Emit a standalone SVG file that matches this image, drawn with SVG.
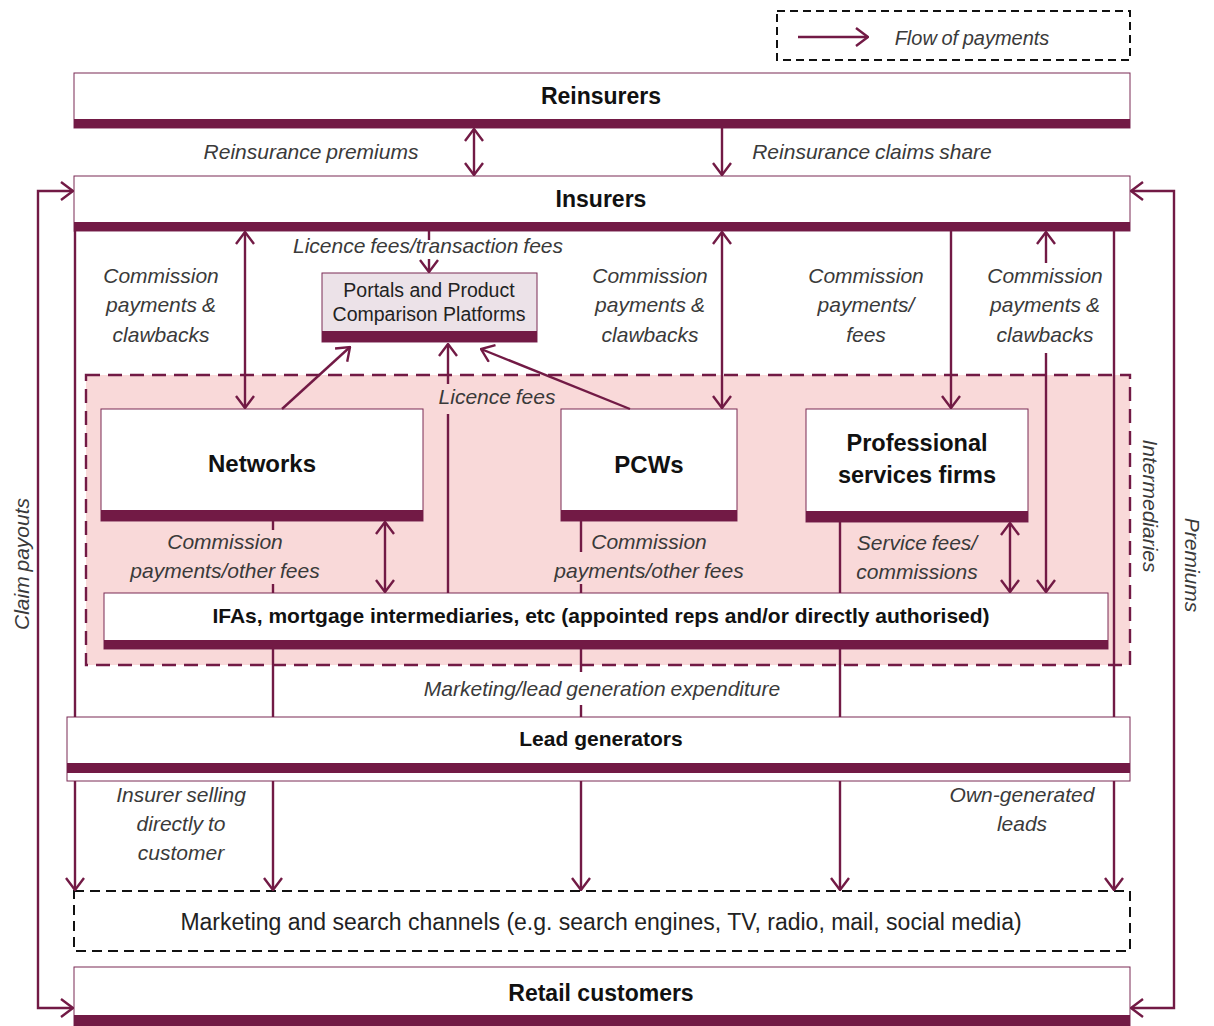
<svg xmlns="http://www.w3.org/2000/svg" width="1214" height="1026" viewBox="0 0 1214 1026">
<defs>
<style>
.box{fill:#fff;stroke:#7b2a55;stroke-width:1}
.bar{fill:#721a45}
.conn{stroke:#721a45;stroke-width:2.4;fill:none}
.lbl{font-family:"Liberation Sans",Arial,sans-serif;font-style:italic;font-size:21px;fill:#3a3a3a;text-anchor:middle;word-spacing:-1px}
.ttl{font-family:"Liberation Sans",Arial,sans-serif;font-weight:700;fill:#111;text-anchor:middle}
.reg{font-family:"Liberation Sans",Arial,sans-serif;fill:#222;text-anchor:middle}
</style>
<marker id="ah" viewBox="0 0 14 20" refX="13" refY="10" markerWidth="14" markerHeight="20" markerUnits="userSpaceOnUse" orient="auto-start-reverse">
<path d="M1,1 L13,10 L1,19" fill="none" stroke="#721a45" stroke-width="2.4"/>
</marker>
</defs>
<rect width="1214" height="1026" fill="#fff"/>

<g id="legend">
<rect x="777" y="11" width="353" height="49" fill="none" stroke="#111" stroke-width="2" stroke-dasharray="8,5"/>
<line x1="798" y1="37" x2="868" y2="37" class="conn" marker-end="url(#ah)"/>
<text x="972" y="45" class="lbl" style="font-size:20px;word-spacing:-1px">Flow of payments</text>
</g>

<g id="reinsurers">
<rect class="box" x="74" y="73" width="1056" height="55"/>
<rect class="bar" x="74" y="119" width="1056" height="9"/>
<text x="601" y="104" class="ttl" font-size="23">Reinsurers</text>
</g>

<g id="insurers">
<rect class="box" x="74" y="176" width="1056" height="55"/>
<rect class="bar" x="74" y="222" width="1056" height="9"/>
<text x="601" y="207" class="ttl" font-size="23">Insurers</text>
</g>

<g id="intermediaries">
<rect x="86" y="375" width="1044" height="290" fill="#f9d9d9" stroke="#721a45" stroke-width="2.4" stroke-dasharray="14,8"/>
<text transform="translate(1143,506) rotate(90)" class="lbl">Intermediaries</text>
</g>

<g id="portals">
<rect x="322" y="273" width="215" height="69" fill="#ece2e8" stroke="#7b2a55" stroke-width="1"/>
<rect class="bar" x="322" y="331" width="215" height="11"/>
<text x="429" y="297" class="reg" font-size="19.5">Portals and Product</text>
<text x="429" y="321" class="reg" font-size="19.5">Comparison Platforms</text>
</g>

<g id="networks">
<rect class="box" x="101" y="409" width="322" height="112"/>
<rect class="bar" x="101" y="510" width="322" height="11"/>
<text x="262" y="472" class="ttl" font-size="24">Networks</text>
</g>

<g id="pcws">
<rect class="box" x="561" y="409" width="176" height="112"/>
<rect class="bar" x="561" y="510" width="176" height="11"/>
<text x="649" y="473" class="ttl" font-size="24">PCWs</text>
</g>

<g id="professional">
<rect class="box" x="806" y="409" width="222" height="113"/>
<rect class="bar" x="806" y="511" width="222" height="11"/>
<text x="917" y="451" class="ttl" font-size="23.5">Professional</text>
<text x="917" y="483" class="ttl" font-size="23.5">services firms</text>
</g>

<g id="ifas">
<rect class="box" x="104" y="593" width="1004" height="56"/>
<rect class="bar" x="104" y="640" width="1004" height="9"/>
<text x="601" y="623" class="ttl" font-size="21">IFAs, mortgage intermediaries, etc (appointed reps and/or directly authorised)</text>
</g>

<g id="leadgen">
<rect class="box" x="67" y="717" width="1063" height="64"/>
<rect class="bar" x="67" y="763" width="1063" height="10"/>
<text x="601" y="746" class="ttl" font-size="21">Lead generators</text>
</g>

<g id="marketing">
<rect x="74" y="891" width="1056" height="60" fill="#fff" stroke="#111" stroke-width="2" stroke-dasharray="10,6"/>
<text x="601" y="930" class="reg" font-size="23" fill="#333">Marketing and search channels (e.g. search engines, TV, radio, mail, social media)</text>
</g>

<g id="retail">
<rect class="box" x="74" y="967" width="1056" height="60"/>
<rect class="bar" x="74" y="1015" width="1056" height="11"/>
<text x="601" y="1001" class="ttl" font-size="23">Retail customers</text>
</g>

<g id="connectors">
<line class="conn" x1="474" y1="129" x2="474" y2="175" marker-start="url(#ah)" marker-end="url(#ah)"/>
<line class="conn" x1="722" y1="128" x2="722" y2="175" marker-end="url(#ah)"/>
<path class="conn" d="M73,191 H38 V1008 H73" marker-start="url(#ah)" marker-end="url(#ah)"/>
<path class="conn" d="M1131,191 H1174 V1008 H1131" marker-start="url(#ah)" marker-end="url(#ah)"/>
<line class="conn" x1="245" y1="232" x2="245" y2="408" marker-start="url(#ah)" marker-end="url(#ah)"/>
<line class="conn" x1="722" y1="232" x2="722" y2="408" marker-start="url(#ah)" marker-end="url(#ah)"/>
<line class="conn" x1="951" y1="231" x2="951" y2="408" marker-end="url(#ah)"/>
<line class="conn" x1="1046" y1="263" x2="1046" y2="232" marker-end="url(#ah)"/>
<line class="conn" x1="1046" y1="353" x2="1046" y2="592" marker-end="url(#ah)"/>
<line class="conn" x1="429" y1="231" x2="429" y2="240"/>
<line class="conn" x1="429" y1="259" x2="429" y2="272" marker-end="url(#ah)"/>
<line class="conn" x1="282" y1="409" x2="350" y2="347" marker-end="url(#ah)"/>
<line class="conn" x1="630" y1="409" x2="481" y2="349" marker-end="url(#ah)"/>
<line class="conn" x1="448" y1="593" x2="448" y2="414"/>
<line class="conn" x1="448" y1="384" x2="448" y2="344" marker-end="url(#ah)"/>
<line class="conn" x1="385" y1="522" x2="385" y2="592" marker-start="url(#ah)" marker-end="url(#ah)"/>
<line class="conn" x1="1010" y1="523" x2="1010" y2="592" marker-start="url(#ah)" marker-end="url(#ah)"/>
<line class="conn" x1="273" y1="521" x2="273" y2="530"/>
<line class="conn" x1="273" y1="584" x2="273" y2="593"/>
<line class="conn" x1="273" y1="649" x2="273" y2="717"/>
<line class="conn" x1="273" y1="781" x2="273" y2="890" marker-end="url(#ah)"/>
<line class="conn" x1="581" y1="521" x2="581" y2="552"/>
<line class="conn" x1="581" y1="584" x2="581" y2="593"/>
<line class="conn" x1="581" y1="649" x2="581" y2="672"/>
<line class="conn" x1="581" y1="705" x2="581" y2="717"/>
<line class="conn" x1="581" y1="781" x2="581" y2="890" marker-end="url(#ah)"/>
<line class="conn" x1="840" y1="522" x2="840" y2="593"/>
<line class="conn" x1="840" y1="649" x2="840" y2="717"/>
<line class="conn" x1="840" y1="781" x2="840" y2="890" marker-end="url(#ah)"/>
<line class="conn" x1="75" y1="231" x2="75" y2="717"/>
<line class="conn" x1="75" y1="781" x2="75" y2="890" marker-end="url(#ah)"/>
<line class="conn" x1="1114" y1="231" x2="1114" y2="717"/>
<line class="conn" x1="1114" y1="781" x2="1114" y2="890" marker-end="url(#ah)"/>
</g>

<g id="labels">
<text x="311" y="159" class="lbl">Reinsurance premiums</text>
<text x="872" y="159" class="lbl">Reinsurance claims share</text>
<text x="428" y="253" class="lbl">Licence fees/transaction fees</text>
<text x="161" y="283" class="lbl">Commission</text>
<text x="161" y="312" class="lbl">payments &amp;</text>
<text x="161" y="342" class="lbl">clawbacks</text>
<text x="650" y="283" class="lbl">Commission</text>
<text x="650" y="312" class="lbl">payments &amp;</text>
<text x="650" y="342" class="lbl">clawbacks</text>
<text x="866" y="283" class="lbl">Commission</text>
<text x="866" y="312" class="lbl">payments/</text>
<text x="866" y="342" class="lbl">fees</text>
<text x="1045" y="283" class="lbl">Commission</text>
<text x="1045" y="312" class="lbl">payments &amp;</text>
<text x="1045" y="342" class="lbl">clawbacks</text>
<text x="497" y="404" class="lbl">Licence fees</text>
<text x="225" y="549" class="lbl">Commission</text>
<text x="225" y="578" class="lbl">payments/other fees</text>
<text x="649" y="549" class="lbl">Commission</text>
<text x="649" y="578" class="lbl">payments/other fees</text>
<text x="917" y="550" class="lbl">Service fees/</text>
<text x="917" y="579" class="lbl">commissions</text>
<text x="602" y="696" class="lbl">Marketing/lead generation expenditure</text>
<text x="181" y="802" class="lbl">Insurer selling</text>
<text x="181" y="831" class="lbl">directly to</text>
<text x="181" y="860" class="lbl">customer</text>
<text x="1022" y="802" class="lbl">Own-generated</text>
<text x="1022" y="831" class="lbl">leads</text>
<text transform="translate(1185,565) rotate(90)" class="lbl">Premiums</text>
<text transform="translate(29,564) rotate(-90)" class="lbl">Claim payouts</text>
</g>
</svg>
